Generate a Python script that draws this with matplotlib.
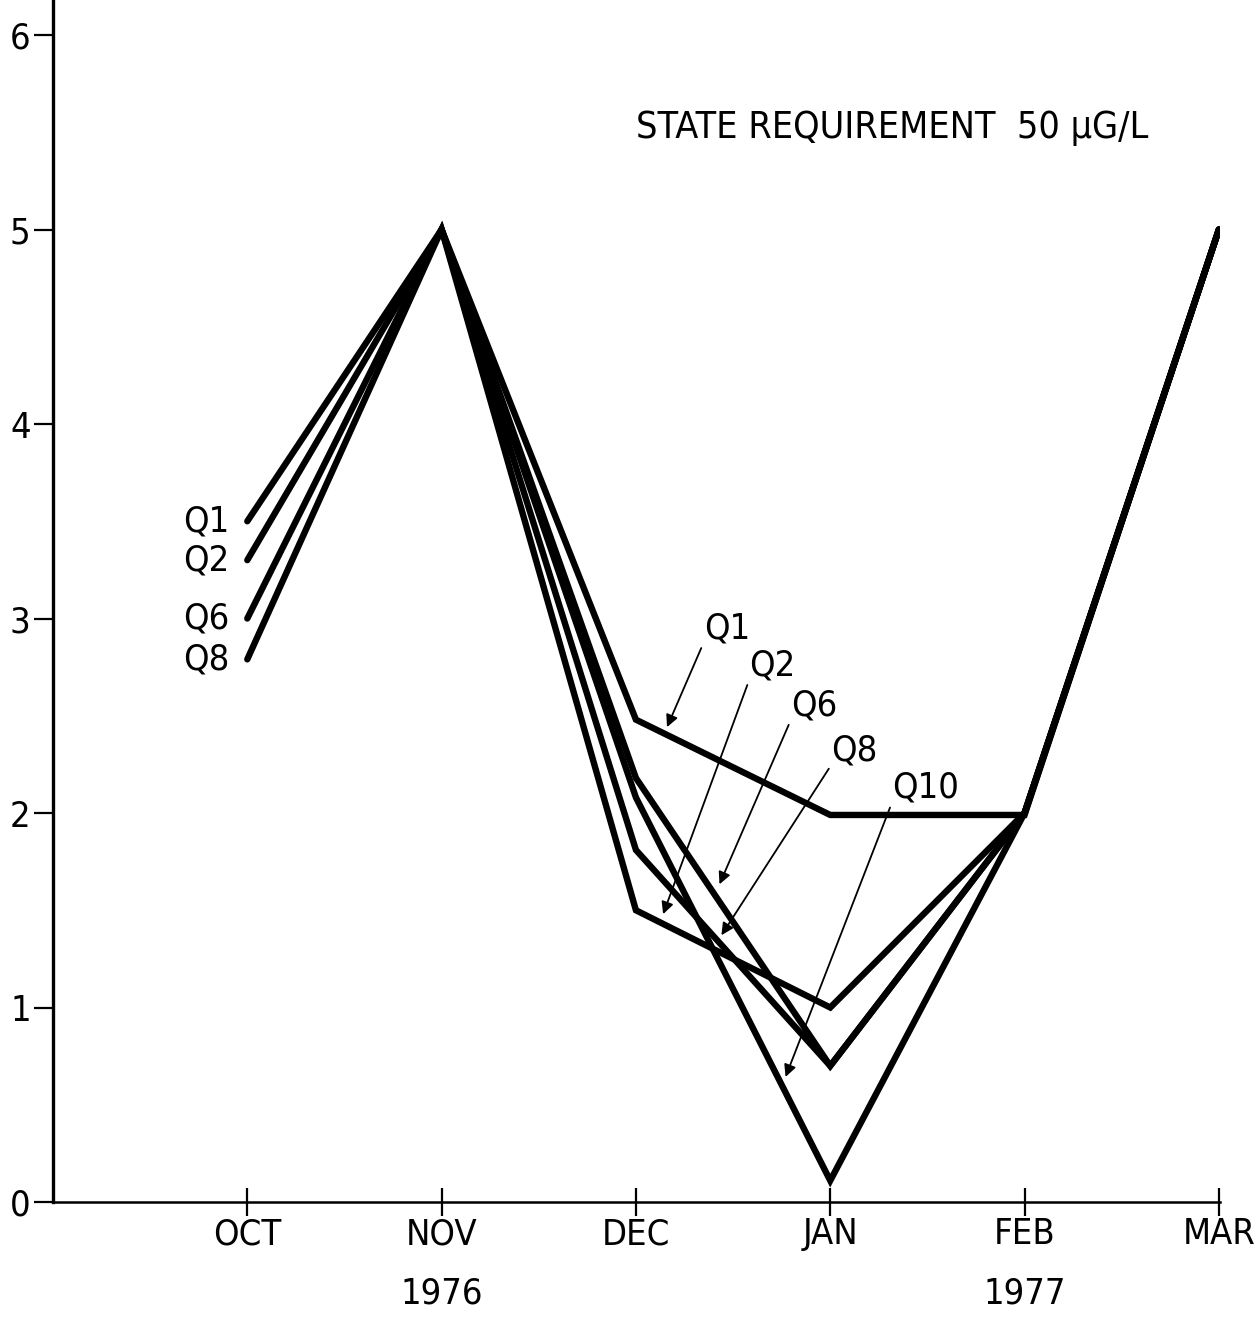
import numpy as np
import matplotlib
matplotlib.use("Agg")
import matplotlib.pyplot as plt
import matplotlib.transforms as mtrans

plt.rcParams['font.family'] = ['DejaVu Sans']
plt.rcParams['font.stretch'] = 'condensed'

months = ['OCT', 'NOV', 'DEC', 'JAN', 'FEB', 'MAR']
years = {'NOV': '1976', 'FEB': '1977'}
yticks = [0, 1, 2, 3, 4, 5, 6]

# values (NaN = no reading that month)
q1 = [3.50, 5.0, 2.48, 1.99, 1.99, 5.0]
q2 = [3.30, 5.0, 1.50, 1.00, 2.00, 5.0]
q6 = [3.00, 5.0, 2.18, 0.70, 2.00, 5.0]
q8 = [2.79, 5.0, 1.81, 0.70, 2.00, 5.0]
q10 = [np.nan, 5.0, 2.08, 0.11, 2.00, 5.0]
series = {'Q1': q1, 'Q2': q2, 'Q6': q6, 'Q8': q8, 'Q10': q10}

fig = plt.figure(figsize=(12.55, 13.17), dpi=100)
ax = fig.add_axes([0.0422, 0.0873, 0.9298, 0.9127])

x = np.arange(len(months))
for name, vals in series.items():
    ax.plot(x, vals, color='black', lw=4.6, solid_joinstyle='miter',
            solid_capstyle='round')

# labels at the October start of each line
for name in ['Q1', 'Q2', 'Q6', 'Q8']:
    ax.text(-0.09, series[name][0], name, ha='right', va='center', fontsize=26)

# arrow labels in the Dec-Jan region: (text x, text y, tip x, tip offset)
arrow_spots = {
    'Q1': (2.35, 2.95, 2.16, 0.04),
    'Q2': (2.585, 2.76, 2.14, 0.05),
    'Q6': (2.80, 2.555, 2.43, 0.09),
    'Q8': (3.007, 2.32, 2.44, 0.05),
    'Q10': (3.32, 2.13, 2.77, 0.08),
}
for name, (tx, ty, px, off) in arrow_spots.items():
    py = np.interp(px, x[1:], np.array(series[name])[1:]) + off
    ax.annotate(name, xy=(px, py), xytext=(tx, ty), ha='left', va='center',
                fontsize=26,
                arrowprops=dict(arrowstyle='-|>', color='black', lw=1.3,
                                mutation_scale=18, shrinkA=0, shrinkB=0,
                                relpos=(0, 0.1)))

ax.text(2.0, 5.52, 'STATE REQUIREMENT  50 \u00b5G/L', ha='left', va='center',
        fontsize=27)

ax.set_xlim(-1.0, 5.005)
ax.set_ylim(0, 6.18)
ax.set_xticks(x)
ax.set_xticklabels(months, fontsize=26)
ax.set_yticks(yticks)
ax.set_yticklabels([str(v) for v in yticks], fontsize=26)
ax.tick_params(axis='x', direction='inout', length=20, width=1.6, pad=1)
ax.tick_params(axis='y', direction='out', length=14, width=1.6, pad=2)

for side in ['top', 'right']:
    ax.spines[side].set_visible(False)
ax.spines['left'].set_linewidth(2.4)
ax.spines['bottom'].set_linewidth(1.8)

trans = mtrans.blended_transform_factory(ax.transData, ax.transAxes)
for m, yr in years.items():
    ax.text(months.index(m), -0.0765, yr, transform=trans, ha='center',
            va='center', fontsize=26)

fig.savefig('out.png', dpi=100, facecolor='white')
